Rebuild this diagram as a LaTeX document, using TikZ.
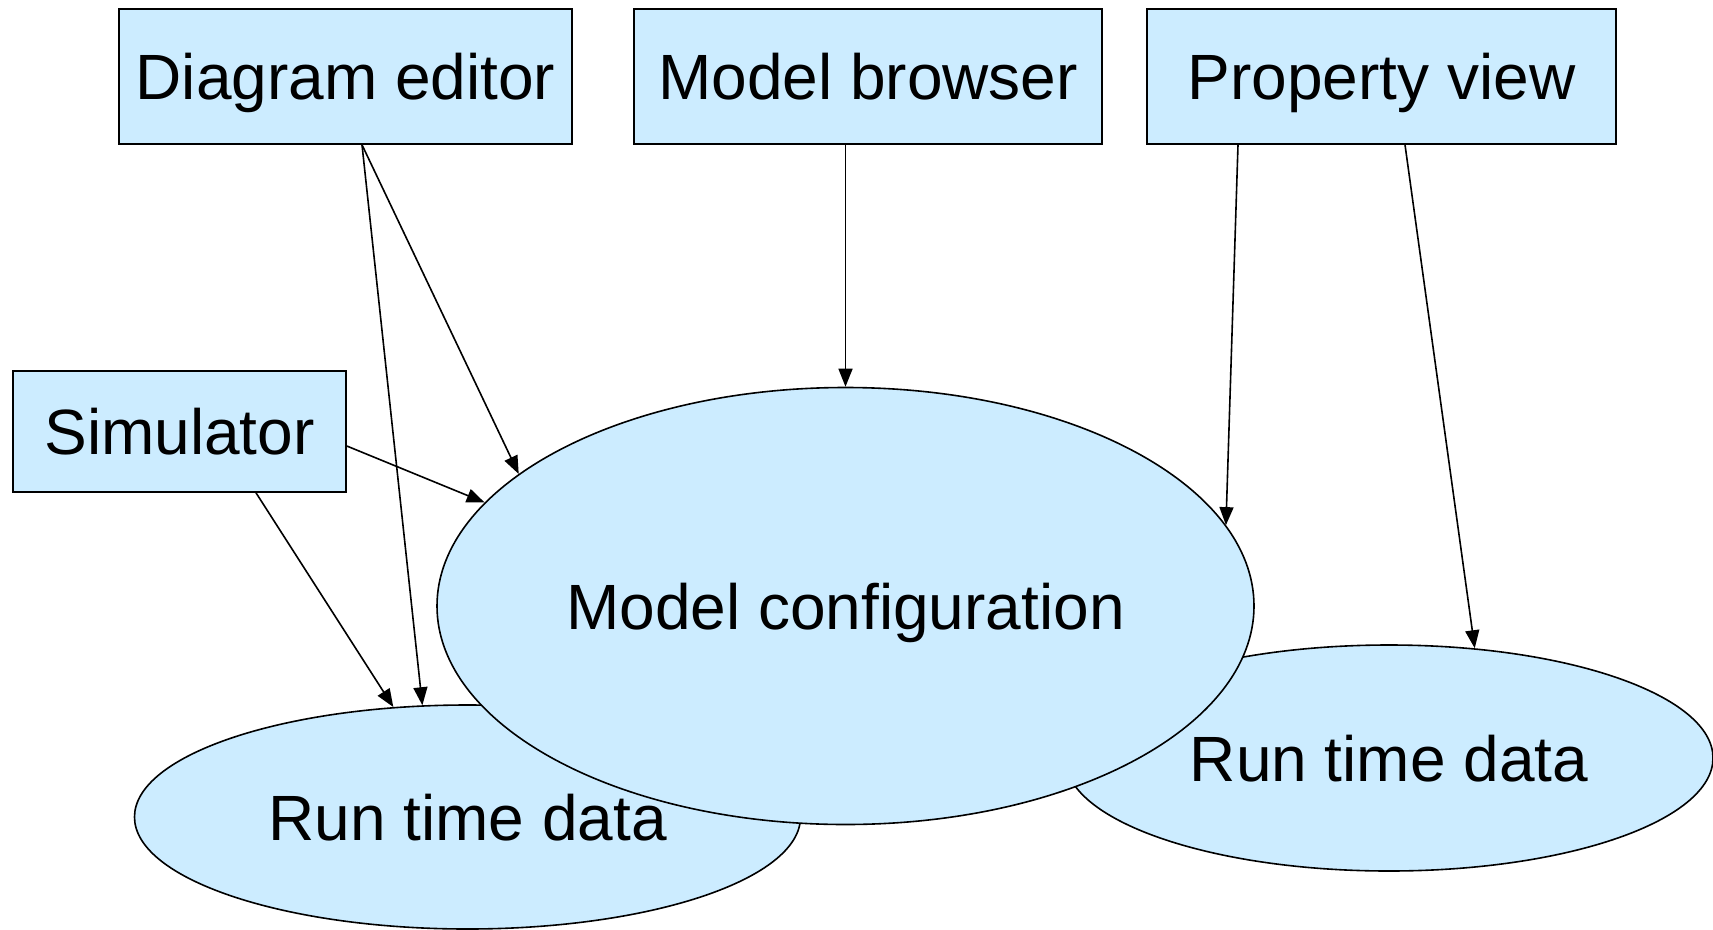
\documentclass[tikz,border=0pt]{standalone}
\usepackage{fontspec}
\setmainfont{Liberation Sans}
\usetikzlibrary{shapes.geometric,arrows.meta}
\definecolor{paleblue}{RGB}{204,236,255}
\begin{document}
\begin{tikzpicture}[x=1pt,y=-1pt,
  every node/.style={font=\fontsize{64}{76}\selectfont, text height=46pt, text depth=0pt, inner sep=0pt},
  box/.style={draw, line width=1.6pt, fill=paleblue, rectangle},
  blob/.style={draw, line width=1.6pt, fill=paleblue, ellipse},
  link/.style={line width=1.6pt, -{Triangle[length=18pt,width=14pt]}}]
\useasboundingbox (0,0) rectangle (1713,929);

% data stores sit underneath the configuration
\node[blob, minimum width=666pt, minimum height=224pt] (rtdl) at (467.5,817) {Run time data};
\node[blob, minimum width=648pt, minimum height=226pt] (rtdr) at (1389,758) {Run time data};
\node[blob, minimum width=817pt, minimum height=437pt] (mc) at (845.5,606) {Model configuration};

% tools
\node[box, minimum width=453pt, minimum height=135pt] (de) at (345.5,76.5) {Diagram editor};
\node[box, minimum width=468pt, minimum height=135pt] (mb) at (868,76.5) {Model browser};
\node[box, minimum width=469pt, minimum height=135pt] (pv) at (1381.5,76.5) {Property view};
\node[box, minimum width=333pt, minimum height=121pt] (sim) at (179.5,431.5) {Simulator};

% dependencies
\draw[link] ([xshift=16.5pt]de.south) -- (rtdl.112);
\draw[link] ([xshift=16.5pt]de.south) -- (mc.158.8);
\draw[link] ([xshift=-22.5pt]mb.south) -- (mc.north);
\draw[link] ([xshift=-143.5pt]pv.south) -- (mc.12.4);
\draw[link] ([xshift=23.5pt]pv.south) -- (rtdr.52);
\draw[link] ([yshift=-14.5pt]sim.east) -- (mc.164.8);
\draw[link] ([xshift=76.5pt]sim.south) -- (rtdl.124);
\end{tikzpicture}
\end{document}
